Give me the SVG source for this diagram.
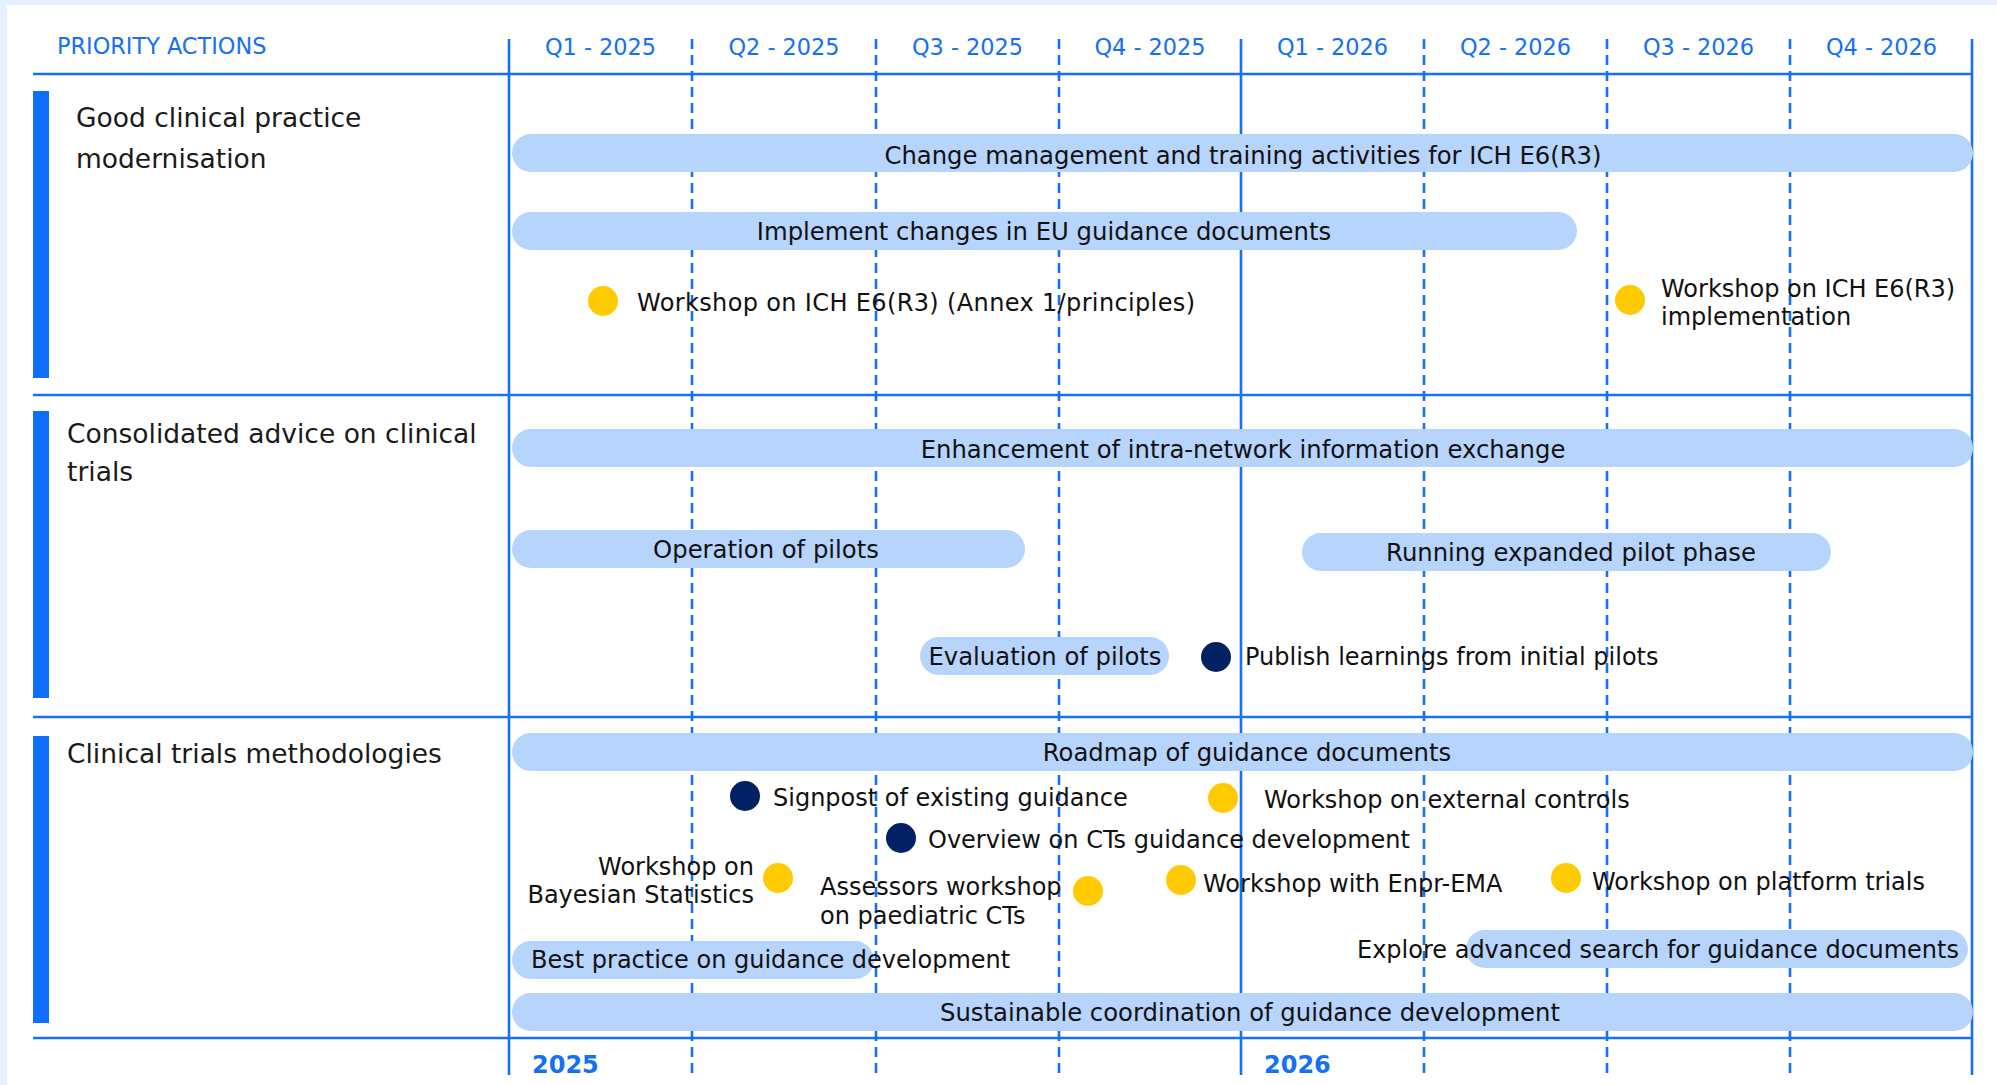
<svg xmlns="http://www.w3.org/2000/svg" width="1997" height="1085" viewBox="0 0 1997 1085">
<style>
text{font-family:"DejaVu Sans",Verdana,sans-serif;}
.hd{font-size:22.4px;fill:#1570F5;}
.q{font-size:22.4px;fill:#1570F5;text-anchor:middle;}
.sec{font-size:26.5px;fill:#1a1a1a;}
.t{font-size:24px;fill:#111;}
.c{font-size:24.3px;fill:#111;text-anchor:middle;}
.e{font-size:24px;fill:#111;text-anchor:end;}
.yr{font-size:24px;font-weight:bold;fill:#1570F5;}
.pill{fill:#B7D4FC;}
.side{fill:#0F6EFD;}
.ln{stroke:#1570F5;stroke-width:2.6;fill:none;}
.dl{stroke:#1570F5;stroke-width:2.6;fill:none;stroke-dasharray:10 6;}
.y{fill:#FFCB00;}
.n{fill:#002163;}
</style>
<rect x="0" y="0" width="1997" height="1085" fill="#E6F0FE"/>
<rect x="7" y="5" width="1990" height="1080" fill="#FFFFFF"/>

<g id="grid">
<line class="ln" x1="509" y1="39" x2="509" y2="1075"/>
<line class="dl" x1="692" y1="39" x2="692" y2="1075"/>
<line class="dl" x1="876" y1="39" x2="876" y2="1075"/>
<line class="dl" x1="1059" y1="39" x2="1059" y2="1075"/>
<line class="ln" x1="1241" y1="39" x2="1241" y2="1075"/>
<line class="dl" x1="1424" y1="39" x2="1424" y2="1075"/>
<line class="dl" x1="1607" y1="39" x2="1607" y2="1075"/>
<line class="dl" x1="1790" y1="39" x2="1790" y2="1075"/>
<line class="ln" x1="1972" y1="39" x2="1972" y2="1075"/>
<line class="ln" x1="33" y1="74" x2="1973" y2="74"/>
<line class="ln" x1="33" y1="395" x2="1973" y2="395"/>
<line class="ln" x1="33" y1="717" x2="1973" y2="717"/>
<line class="ln" x1="33" y1="1038" x2="1973" y2="1038"/>
</g>

<g id="header">
<text class="hd" x="57" y="54">PRIORITY ACTIONS</text>
<text class="q" x="600.5" y="54.5">Q1 - 2025</text>
<text class="q" x="784" y="54.5">Q2 - 2025</text>
<text class="q" x="967.5" y="54.5">Q3 - 2025</text>
<text class="q" x="1150" y="54.5">Q4 - 2025</text>
<text class="q" x="1332.5" y="54.5">Q1 - 2026</text>
<text class="q" x="1515.5" y="54.5">Q2 - 2026</text>
<text class="q" x="1698.5" y="54.5">Q3 - 2026</text>
<text class="q" x="1881.5" y="54.5">Q4 - 2026</text>
</g>

<g id="section-gcp">
<rect class="side" x="33" y="91" width="16" height="287"/>
<text class="sec" x="76" y="127">Good clinical practice</text>
<text class="sec" x="76" y="168">modernisation</text>
</g>
<g id="section-advice">
<rect class="side" x="33" y="411" width="16" height="287"/>
<text class="sec" x="67" y="443">Consolidated advice on clinical</text>
<text class="sec" x="67" y="481">trials</text>
</g>
<g id="section-methods">
<rect class="side" x="33" y="736" width="16" height="287"/>
<text class="sec" x="67" y="763">Clinical trials methodologies</text>
</g>

<g id="change-management">
<rect class="pill" x="512" y="134" width="1461" height="38" rx="19"/>
<text class="c" x="1243" y="163.5">Change management and training activities for ICH E6(R3)</text>
</g>
<g id="implement-changes">
<rect class="pill" x="512" y="212" width="1065" height="38" rx="19"/>
<text class="c" x="1044" y="240">Implement changes in EU guidance documents</text>
</g>
<g id="workshop-annex1">
<circle class="y" cx="603" cy="301" r="15"/>
<text class="t" x="637" y="311" textLength="558" lengthAdjust="spacing">Workshop on ICH E6(R3) (Annex 1/principles)</text>
</g>
<g id="workshop-implementation">
<circle class="y" cx="1630" cy="300" r="15"/>
<text class="t" x="1661" y="297">Workshop on ICH E6(R3)</text>
<text class="t" x="1661" y="325">implementation</text>
</g>

<g id="enhancement">
<rect class="pill" x="512" y="429" width="1461" height="38" rx="19"/>
<text class="c" x="1243" y="458">Enhancement of intra-network information exchange</text>
</g>
<g id="operation-pilots">
<rect class="pill" x="512" y="530" width="513" height="38" rx="19"/>
<text class="c" x="766" y="558">Operation of pilots</text>
</g>
<g id="expanded-pilot">
<rect class="pill" x="1302" y="533" width="529" height="38" rx="19"/>
<text class="c" x="1571" y="561">Running expanded pilot phase</text>
</g>
<g id="evaluation-pilots">
<rect class="pill" x="920" y="637" width="249" height="38" rx="19"/>
<text class="c" x="1045" y="665">Evaluation of pilots</text>
</g>
<g id="publish-learnings">
<circle class="n" cx="1216" cy="657" r="15"/>
<text class="t" x="1245" y="665">Publish learnings from initial pilots</text>
</g>

<g id="roadmap">
<rect class="pill" x="512" y="733" width="1461" height="38" rx="19"/>
<text class="c" x="1247" y="761">Roadmap of guidance documents</text>
</g>
<g id="signpost">
<circle class="n" cx="745" cy="796" r="15"/>
<text class="t" x="773" y="806">Signpost of existing guidance</text>
</g>
<g id="external-controls">
<circle class="y" cx="1223" cy="798" r="15"/>
<text class="t" x="1264" y="808">Workshop on external controls</text>
</g>
<g id="overview-cts">
<circle class="n" cx="901" cy="838" r="15"/>
<text class="t" x="928" y="848">Overview on CTs guidance development</text>
</g>
<g id="bayesian">
<circle class="y" cx="778" cy="878" r="15"/>
<text class="e" x="754" y="875">Workshop on</text>
<text class="e" x="754" y="903">Bayesian Statistics</text>
</g>
<g id="assessors-workshop">
<circle class="y" cx="1088" cy="891" r="15"/>
<text class="t" x="820" y="895">Assessors workshop</text>
<text class="t" x="820" y="924">on paediatric CTs</text>
</g>
<g id="enpr-ema">
<circle class="y" cx="1181" cy="880" r="15"/>
<text class="t" x="1203" y="892">Workshop with Enpr-EMA</text>
</g>
<g id="platform-trials">
<circle class="y" cx="1566" cy="878" r="15"/>
<text class="t" x="1592" y="890">Workshop on platform trials</text>
</g>
<g id="best-practice">
<rect class="pill" x="512" y="941" width="362" height="38" rx="19"/>
<text class="t" x="531" y="968">Best practice on guidance development</text>
</g>
<g id="advanced-search">
<rect class="pill" x="1466" y="930" width="502" height="38" rx="19"/>
<text class="e" x="1959" y="958">Explore advanced search for guidance documents</text>
</g>
<g id="sustainable-coordination">
<rect class="pill" x="512" y="993" width="1461" height="38" rx="19"/>
<text class="c" x="1250" y="1021">Sustainable coordination of guidance development</text>
</g>

<g id="years">
<text class="yr" x="532" y="1073">2025</text>
<text class="yr" x="1264" y="1073">2026</text>
</g>
<g id="connectors"></g>
</svg>
